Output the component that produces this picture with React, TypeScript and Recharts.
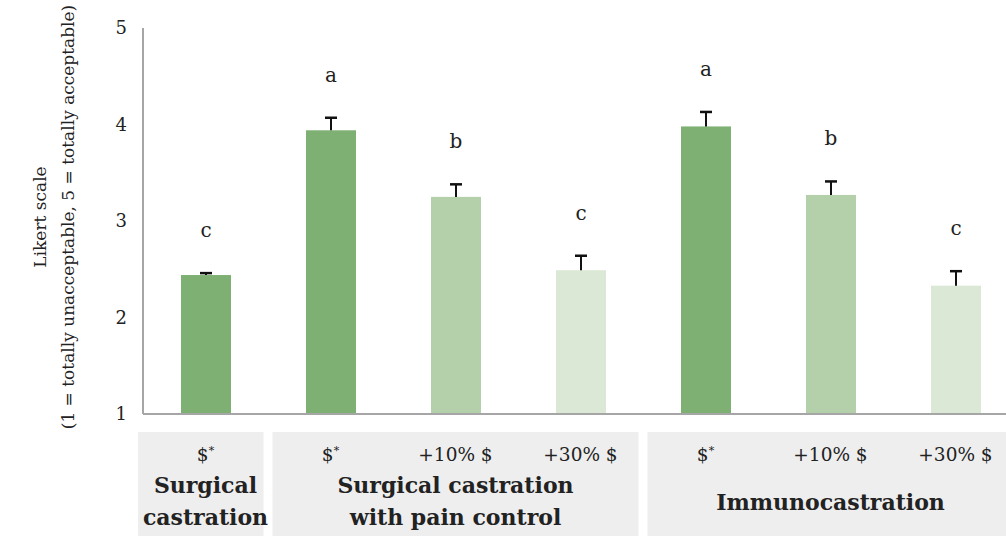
import { BarChart, Bar, Cell, XAxis, YAxis } from "recharts";

// ─── DATA ────────────────────────────────────────────────────────────
const priceLabels = ["$*", "$*", "+10% $", "+30% $", "$*", "+10% $", "+30% $"];
const groupOf = [0, 1, 1, 1, 2, 2, 2];
const groupLines = [
  ["Surgical", "castration"],
  ["Surgical castration", "with pain control"],
  ["Immunocastration"],
];
const means = [2.44, 3.94, 3.25, 2.49, 3.98, 3.27, 2.33];
const errors = [0.02, 0.13, 0.13, 0.15, 0.15, 0.14, 0.15];
const letters = ["c", "a", "b", "c", "a", "b", "c"];
const shade = [0, 0, 1, 2, 0, 1, 2];
const yTicks = [1, 2, 3, 4, 5];

const COLORS = ["#7DB072", "#B3D0AB", "#DBE8D6"];
const FONT = "'DejaVu Serif', serif";
const BAND = 125;

const data = means.map((m, i) => ({
  name: `c${i}`,
  value: m,
  err: errors[i],
  letter: letters[i],
}));

// ─── SHAPES ──────────────────────────────────────────────────────────

// bar + upper error cap + significance letter, all from the bar's own geometry
function BarWithError(props: any) {
  const { x, y, width, height, fill, payload } = props;
  const ppu = height / (payload.value - 1); // px per unit, domain starts at 1
  const top = y - payload.err * ppu;
  const cx = x + width / 2;
  return (
    <g>
      <rect x={x} y={y} width={width} height={height} fill={fill} />
      <line x1={cx} x2={cx} y1={y} y2={top} stroke="#111" strokeWidth={2} />
      <line x1={cx - 6} x2={cx + 6} y1={top} y2={top} stroke="#111" strokeWidth={2.5} />
      <text x={cx} y={top - 36} textAnchor="middle" fontFamily={FONT} fontSize={20} fill="#222">
        {payload.letter}
      </text>
    </g>
  );
}

// each tick paints its own grey cell; the group title is drawn by the group's
// last tick so no later cell of that group covers it
function GroupTick(props: any) {
  const { x, y, index } = props;
  const n = priceLabels.length;
  const g = groupOf[index];
  const first = index === 0 || groupOf[index - 1] !== g;
  const last = index === n - 1 || groupOf[index + 1] !== g;
  const left = x - BAND / 2 + (first ? (index === 0 ? -5 : 4.5) : 0);
  const right = x + BAND / 2 - (last ? 4.5 : 0);

  const members = groupOf.map((v, i) => (v === g ? i : -1)).filter((i) => i >= 0);
  const mid = members[Math.floor(members.length / 2)];
  const tx = x + (mid - index) * BAND;
  const lines = groupLines[g];

  const raw = priceLabels[index];
  const star = raw.endsWith("*");
  const base = star ? raw.slice(0, -1) : raw;

  return (
    <g>
      <rect x={left} y={y + 18} width={right - left} height={110} fill="#EEEEEE" />
      <text x={x} y={y + 47} textAnchor="middle" fontFamily={FONT} fontSize={18.5} fill="#222">
        {base}
        {star && (
          <tspan dy={-7} fontSize={11}>
            *
          </tspan>
        )}
      </text>
      {last &&
        lines.map((l, k) => (
          <text
            key={k}
            x={tx}
            y={lines.length === 1 ? y + 96 : y + 79 + k * 32}
            textAnchor="middle"
            fontFamily={FONT}
            fontWeight="bold"
            fontSize={22}
            fill="#222"
          >
            {l}
          </text>
        ))}
    </g>
  );
}

function YLabel() {
  const cy = 217;
  return (
    <g fontFamily={FONT} fontSize={17} fill="#222">
      <text x={46} y={cy} textAnchor="middle" transform={`rotate(-90 46 ${cy})`}>
        Likert scale
      </text>
      <text x={74} y={cy} textAnchor="middle" transform={`rotate(-90 74 ${cy})`}>
        (1 = totally unacceptable, 5 = totally acceptable)
      </text>
    </g>
  );
}

// ─── COMPONENT ───────────────────────────────────────────────────────

export default function App() {
  return (
    <div
      style={{
        position: "absolute",
        left: 0,
        top: 0,
        width: 1006,
        height: 536,
        overflow: "hidden",
        background: "#fff",
      }}
    >
      <BarChart
        width={1018}
        height={536}
        data={data}
        margin={{ top: 28, right: 0, bottom: 0, left: 0 }}
      >
        <XAxis
          dataKey="name"
          height={122}
          interval={0}
          tickLine={false}
          tickSize={0}
          tickMargin={0}
          axisLine={{ stroke: "#A6A6A6", strokeWidth: 2 }}
          tick={<GroupTick />}
        />
        <YAxis
          width={143}
          domain={[1, 5]}
          ticks={yTicks}
          tickLine={false}
          tickSize={0}
          tickMargin={16}
          axisLine={{ stroke: "#A6A6A6", strokeWidth: 2 }}
          tick={{ fontFamily: FONT, fontSize: 18, fill: "#222" }}
          label={{ content: <YLabel /> }}
        />
        <Bar dataKey="value" barSize={50} isAnimationActive={false} shape={<BarWithError />}>
          {data.map((_, i) => (
            <Cell key={i} fill={COLORS[shade[i]]} />
          ))}
        </Bar>
      </BarChart>
    </div>
  );
}
